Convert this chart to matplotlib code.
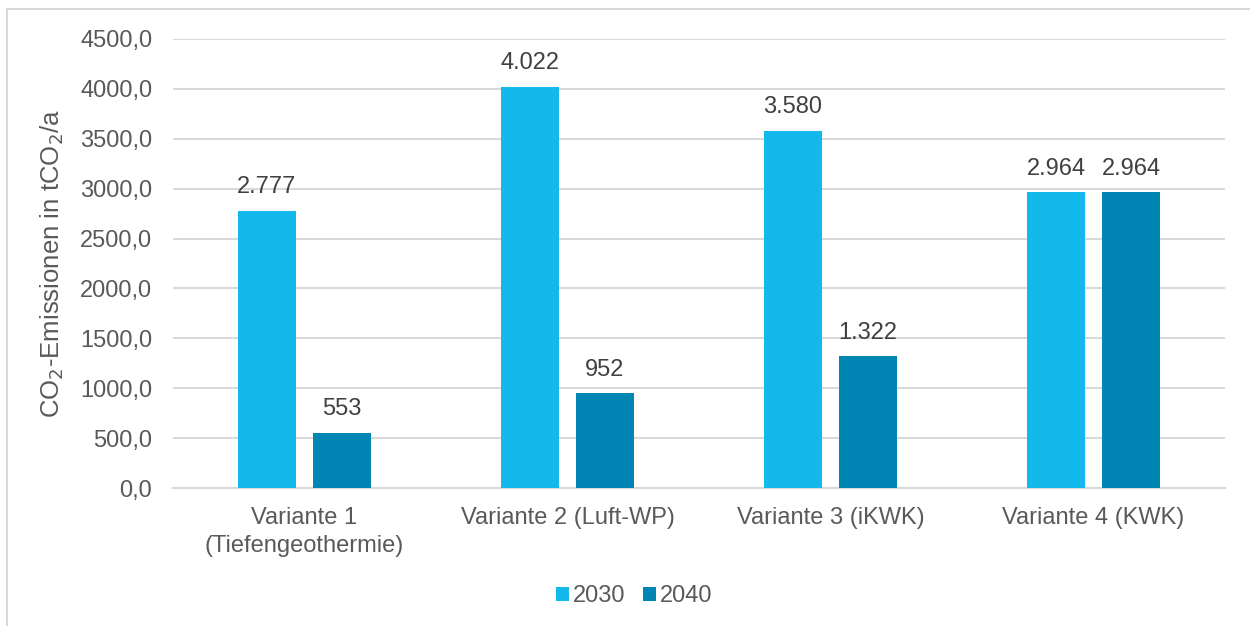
import matplotlib
matplotlib.use("Agg")
import matplotlib.pyplot as plt
import numpy as np
from matplotlib.patches import Rectangle

categories = ["Variante 1\n(Tiefengeothermie)", "Variante 2 (Luft-WP)", "Variante 3 (iKWK)", "Variante 4 (KWK)"]
series_names = ["2030", "2040"]
values_2030 = [2777, 4022, 3580, 2964]
values_2040 = [553, 952, 1322, 2964]
labels_2030 = ["2.777", "4.022", "3.580", "2.964"]
labels_2040 = ["553", "952", "1.322", "2.964"]
yticks = [0, 500, 1000, 1500, 2000, 2500, 3000, 3500, 4000, 4500]
ytick_labels = ["0,0", "500,0", "1000,0", "1500,0", "2000,0", "2500,0", "3000,0", "3500,0", "4000,0", "4500,0"]

c2030 = "#13B9EB"
c2040 = "#0085B5"
txt = "#595959"
FS = 17

plt.rcParams['font.family'] = ['Liberation Sans', 'DejaVu Sans']

fig = plt.figure(figsize=(12.5, 6.26), dpi=100)
ax = fig.add_axes([173/1250, 1 - 488/626, (1225-173)/1250, (488-39)/626])

x = np.arange(len(categories))
w = 0.224
off = 0.1426
b1 = ax.bar(x - off, values_2030, w, color=c2030, label=series_names[0], zorder=3)
b2 = ax.bar(x + off, values_2040, w, color=c2040, label=series_names[1], zorder=3)

for bars, labs in ((b1, labels_2030), (b2, labels_2040)):
    for rect, lab in zip(bars, labs):
        ax.annotate(lab, (rect.get_x() + rect.get_width()/2, rect.get_height()),
                    xytext=(0, 9), textcoords="offset points", ha="center", va="bottom",
                    fontsize=FS, color="#404040")

ax.set_xlim(-0.5, 3.5)
ax.set_ylim(0, 4500)
ax.set_yticks(yticks)
ax.set_yticklabels(ytick_labels, fontsize=FS, color=txt)
ax.set_xticks(x)
ax.set_xticklabels(categories, fontsize=FS, color=txt, linespacing=1.3)
ax.tick_params(axis='y', length=0, pad=15)
ax.tick_params(axis='x', length=0, pad=14)
ax.grid(axis='y', color="#D9D9D9", linewidth=1.5, zorder=0)
for s in ["top", "right", "left"]:
    ax.spines[s].set_visible(False)
ax.spines["bottom"].set_color("#D9D9D9")
ax.spines["bottom"].set_linewidth(1.5)

ax.set_ylabel("CO$_2$-Emissionen in tCO$_2$/a", fontsize=18.5, color=txt)
ax.yaxis.set_label_coords(-0.1017, 0.5)

leg = fig.legend(handles=[b1, b2], labels=series_names, loc="center", bbox_to_anchor=(634.5/1250, 1 - 596/626),
                 ncol=2, frameon=False, fontsize=FS, handlelength=0.55, handleheight=0.55,
                 handletextpad=0.17, columnspacing=0.75)
for t in leg.get_texts():
    t.set_color(txt)

fig.patches.append(Rectangle((7/1250, -0.1), 1.2, 1 - 9/626 + 0.1, transform=fig.transFigure,
                             fill=False, edgecolor="#D9D9D9", linewidth=1.5, zorder=-1))

fig.savefig("out.png", dpi=100)
